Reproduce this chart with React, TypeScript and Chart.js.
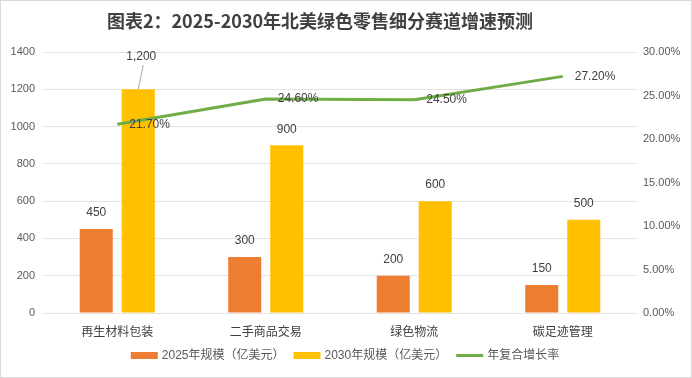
import React, { useEffect, useRef } from "react";
import { Chart, registerables } from "chart.js";

Chart.register(...registerables);

const titleText = "图表2：2025-2030年北美绿色零售细分赛道增速预测";
const categories = ["再生材料包装", "二手商品交易", "绿色物流", "碳足迹管理"];
const size2025 = [450, 300, 200, 150];
const size2030 = [1200, 900, 600, 500];
const cagr = [21.7, 24.6, 24.5, 27.2];
const seriesNames = ["2025年规模（亿美元）", "2030年规模（亿美元）", "年复合增长率"];
const leftMax = 1400;
const leftStep = 200;
const rightMax = 30;
const rightStep = 5;

const COLORS = ["#ED7D31", "#FFC000", "#70AD47"];
const LATIN = '"Liberation Sans", "Noto Sans CJK SC", sans-serif';
const CJK = '"Noto Sans CJK SC", "Liberation Sans", sans-serif';
const TEXT = "#404040";
const TICK = "#595959";

const overlay = {
  id: "overlay",
  afterDraw(chart: any) {
    const ctx = chart.ctx as CanvasRenderingContext2D;
    const area = chart.chartArea;
    ctx.save();
    // frame
    ctx.strokeStyle = "#D9D9D9";
    ctx.lineWidth = 1;
    ctx.strokeRect(0.5, 0.5, chart.width - 1, chart.height - 1);

    // title
    ctx.font = `bold 18px ${CJK}`;
    ctx.fillStyle = TEXT;
    ctx.textAlign = "center";
    ctx.textBaseline = "middle";
    ctx.fillText(titleText, 320, 21);

    // bar value labels
    ctx.font = `12px ${LATIN}`;
    ctx.fillStyle = TEXT;
    [0, 1].forEach((di) => {
      const meta = chart.getDatasetMeta(di);
      meta.data.forEach((el: any, i: number) => {
        const v = chart.data.datasets[di].data[i] as number;
        const text = v.toLocaleString("en-US");
        if (el.y - area.top < 50) {
          const lx = el.x + 3;
          const ly = area.top + 5;
          ctx.textAlign = "center";
          ctx.fillText(text, lx, ly);
          ctx.strokeStyle = "#A6A6A6";
          ctx.lineWidth = 1;
          ctx.beginPath();
          ctx.moveTo(lx + 2, ly + 8);
          ctx.lineTo(el.x, el.y);
          ctx.stroke();
        } else {
          ctx.textAlign = "center";
          ctx.fillText(text, el.x, el.y - 16);
        }
      });
    });

    // line labels
    const lmeta = chart.getDatasetMeta(2);
    ctx.textAlign = "left";
    lmeta.data.forEach((el: any, i: number) => {
      const v = chart.data.datasets[2].data[i] as number;
      ctx.fillText(v.toFixed(2) + "%", el.x + 12, el.y);
    });

    // legend
    ctx.font = `12px ${LATIN}`;
    const boxW = 27;
    const gapBT = 4;
    const gapItems = 9;
    const widths = seriesNames.map((s) => ctx.measureText(s).width);
    const total = widths.reduce((a, w) => a + boxW + gapBT + w, 0) + gapItems * (seriesNames.length - 1);
    let x = 345 - total / 2;
    const ly = 355.5;
    seriesNames.forEach((s, i) => {
      if (i < 2) {
        ctx.fillStyle = COLORS[i];
        ctx.fillRect(x, ly - 3.5, boxW, 7);
      } else {
        ctx.strokeStyle = COLORS[i];
        ctx.lineWidth = 3;
        ctx.beginPath();
        ctx.moveTo(x, ly);
        ctx.lineTo(x + boxW, ly);
        ctx.stroke();
      }
      x += boxW + gapBT;
      ctx.fillStyle = TICK;
      ctx.textAlign = "left";
      ctx.textBaseline = "middle";
      ctx.fillText(s, x, ly);
      x += widths[i] + gapItems;
    });
    ctx.restore();
  },
};

export default function App() {
  const ref = useRef<HTMLCanvasElement | null>(null);
  useEffect(() => {
    if (!ref.current) return;
    const chart = new Chart(ref.current, {
      type: "bar",
      data: {
        labels: categories,
        datasets: [
          {
            type: "bar",
            label: seriesNames[0],
            data: size2025,
            backgroundColor: COLORS[0],
            yAxisID: "y",
            order: 1,
            categoryPercentage: 0.566,
            barPercentage: 0.786,
          },
          {
            type: "bar",
            label: seriesNames[1],
            data: size2030,
            backgroundColor: COLORS[1],
            yAxisID: "y",
            order: 1,
            categoryPercentage: 0.566,
            barPercentage: 0.786,
          },
          {
            type: "line",
            label: seriesNames[2],
            data: cagr,
            borderColor: COLORS[2],
            backgroundColor: COLORS[2],
            borderWidth: 3,
            pointRadius: 0,
            tension: 0,
            borderJoinStyle: "round",
            yAxisID: "y1",
            order: 0,
          } as any,
        ],
      },
      options: {
        responsive: false,
        animation: false,
        layout: { padding: { top: 52, bottom: 33, left: 0, right: 0 } },
        plugins: {
          legend: { display: false },
          title: { display: false },
          tooltip: { enabled: false },
        },
        scales: {
          x: {
            grid: { display: false },
            border: { display: false },
            ticks: { color: TEXT, font: { family: CJK, size: 12 }, padding: 3, maxRotation: 0 },
            afterFit(s: any) {
              s.height = 32;
            },
          },
          y: {
            position: "left",
            min: 0,
            max: leftMax,
            ticks: {
              stepSize: leftStep,
              color: TICK,
              font: { family: LATIN, size: 11 },
              padding: 8,
              callback: (v: any) => String(v),
            },
            grid: { color: "#E3E3E3", drawTicks: false },
            border: { display: false },
            afterFit(s: any) {
              s.width = 43;
            },
          },
          y1: {
            position: "right",
            min: 0,
            max: rightMax,
            ticks: {
              stepSize: rightStep,
              color: TICK,
              font: { family: LATIN, size: 11 },
              padding: 6,
              callback: (v: any) => Number(v).toFixed(2) + "%",
            },
            grid: { display: false, drawTicks: false },
            border: { display: false },
            afterFit(s: any) {
              s.width = 55;
            },
          },
        },
      } as any,
      plugins: [overlay],
    });
    return () => chart.destroy();
  }, []);
  return (
    <div style={{ position: "fixed", left: 0, top: 0, width: 692, height: 378, background: "#fff" }}>
      <canvas ref={ref} width={692} height={378} style={{ display: "block" }} />
    </div>
  );
}
